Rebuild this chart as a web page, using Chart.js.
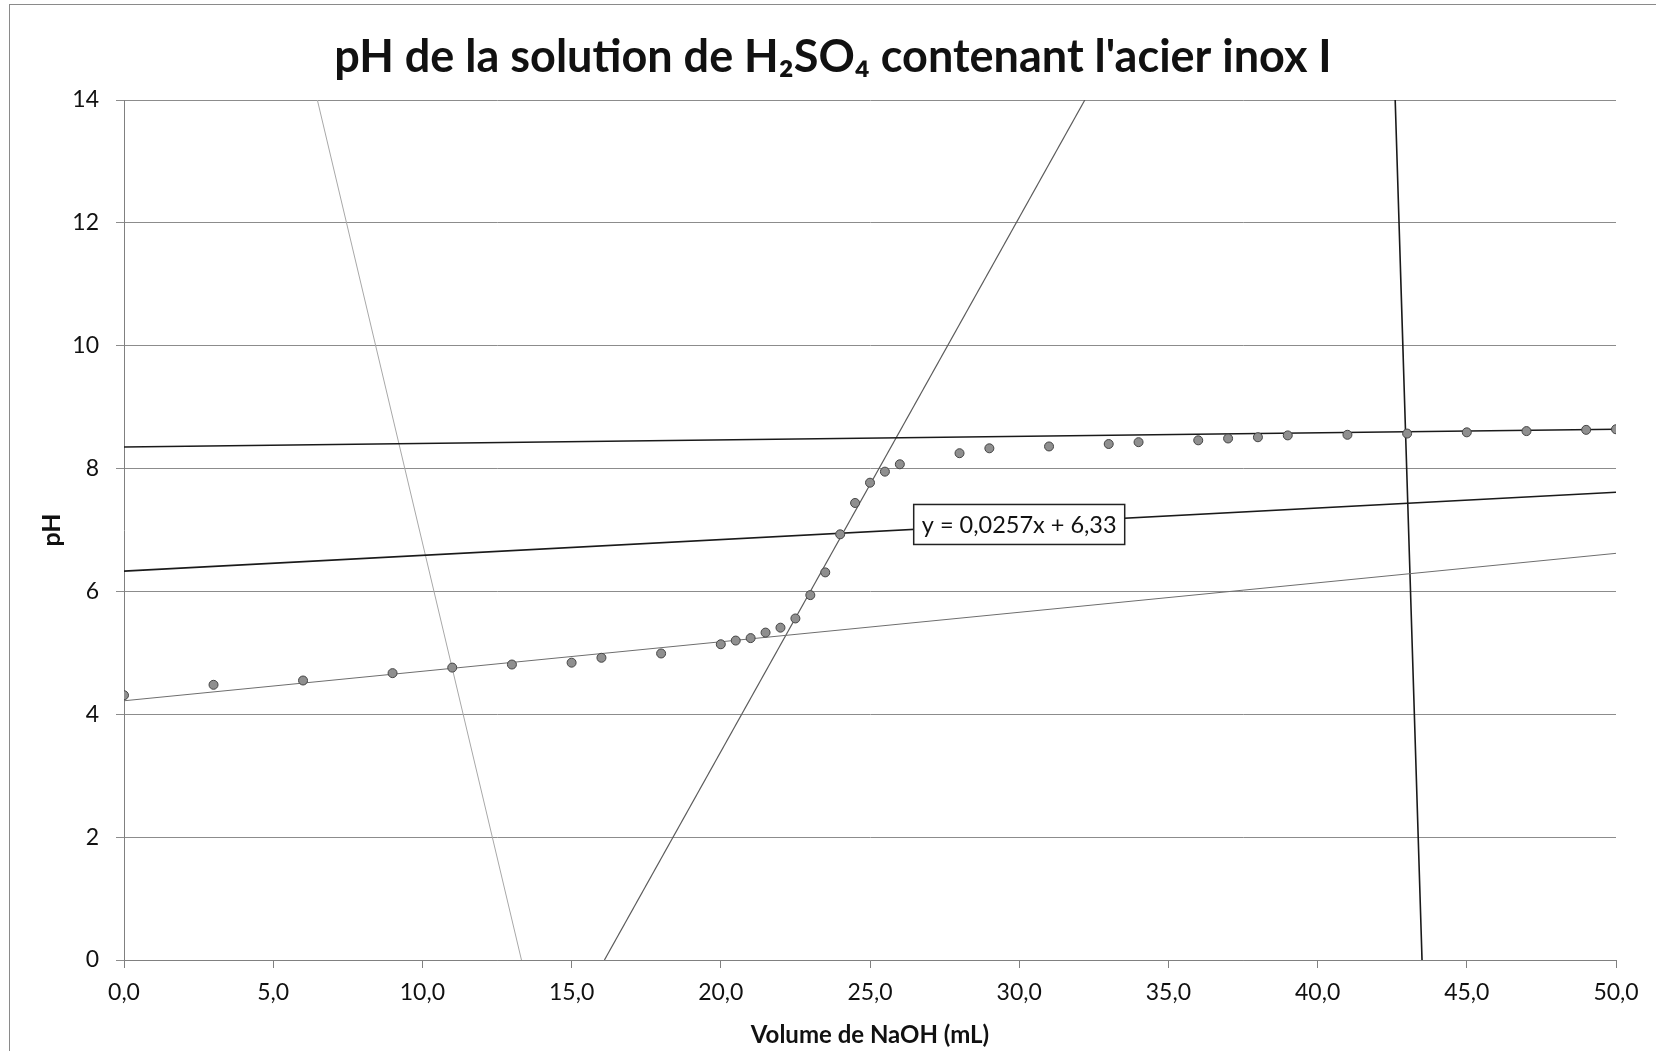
<!DOCTYPE html>
<html>
<head>
<meta charset="utf-8">
<title>pH de la solution de H2SO4</title>
<script src="https://cdn.jsdelivr.net/npm/chart.js@4.4.0/dist/chart.umd.min.js"></script>
<style>
  html, body { margin: 0; padding: 0; background: #fff; }
  #wrap { width: 1656px; height: 1051px; position: relative; }
</style>
</head>
<body>
<div id="wrap"><canvas id="chartPH" width="1656" height="1051"></canvas></div>
<script>
// -------------------------------------
// Données
// -------------------------------------
const volumes = [0, 3, 6, 9, 11, 13, 15, 16, 18, 20, 20.5, 21, 21.5, 22, 22.5, 23, 23.5, 24,
  24.5, 25, 25.5, 26, 28, 29, 31, 33, 34, 36, 37, 38, 39, 41, 43, 45, 47, 49, 50];
const phValues = [4.31, 4.48, 4.55, 4.67, 4.76, 4.81, 4.84, 4.92, 4.99, 5.14, 5.20, 5.24, 5.33,
  5.41, 5.56, 5.94, 6.31, 6.93, 7.44, 7.77, 7.95, 8.07, 8.25, 8.33, 8.36, 8.40, 8.43, 8.46,
  8.49, 8.51, 8.54, 8.55, 8.57, 8.59, 8.61, 8.63, 8.64];

// droites tracées (extrémités)
const droiteAcideX = [0, 50];        const droiteAcideY = [4.22, 6.62];
const droiteMilieuX = [0, 50];       const droiteMilieuY = [6.33, 7.615];
const droiteBasiqueX = [0, 50];      const droiteBasiqueY = [8.35, 8.64];
const tangenteX = [16.1, 32.2];      const tangenteY = [0, 14];
const droiteClaireX = [6.48, 13.32]; const droiteClaireY = [14, 0];
const verticaleX = [42.6, 43.5];     const verticaleY = [14, 0];

const xTicks = [0, 5, 10, 15, 20, 25, 30, 35, 40, 45, 50];
const yTicks = [0, 2, 4, 6, 8, 10, 12, 14];
const equation = "y = 0,0257x + 6,33";

const toPoints = (xs, ys) => xs.map((x, i) => ({ x: x, y: ys[i] }));

const FONT = "Lato, 'Open Sans', sans-serif";

// cadre extérieur + étiquette de l'équation
const decorPlugin = {
  id: "decor",
  afterLayout(chart) {
    // le titre est un peu décalé vers la droite dans l'original
    chart.titleBlock.left += 20;
    chart.titleBlock.right += 20;
  },
  beforeDraw(chart) {
    const ctx = chart.ctx;
    ctx.save();
    ctx.strokeStyle = "#8a8a8a";
    ctx.lineWidth = 1;
    ctx.strokeRect(9.5, 4.5, 1700, 1100);
    ctx.restore();
  },
  afterDatasetsDraw(chart) {
    const ctx = chart.ctx;
    const sx = chart.scales.x, sy = chart.scales.y;
    const cx = sx.getPixelForValue(30.0);
    const cy = sy.getPixelForValue(7.09);
    ctx.save();
    ctx.font = "23.5px " + FONT;
    const w = 211, h = 40;
    ctx.fillStyle = "#fff";
    ctx.fillRect(cx - w / 2, cy - h / 2, w, h);
    ctx.strokeStyle = "#222";
    ctx.lineWidth = 1.5;
    ctx.strokeRect(cx - w / 2, cy - h / 2, w, h);
    ctx.fillStyle = "#111";
    ctx.textAlign = "center";
    ctx.textBaseline = "middle";
    ctx.fillText(equation, cx, cy + 1);
    ctx.restore();
  }
};

const ligne = (data, color, width) => ({
  type: "line",
  data: data,
  borderColor: color,
  borderWidth: width,
  pointRadius: 0,
  fill: false,
  order: 2
});

new Chart(document.getElementById("chartPH"), {
  type: "scatter",
  data: {
    datasets: [
      {
        label: "pH",
        data: toPoints(volumes, phValues),
        pointRadius: 4.5,
        pointBackgroundColor: "#8f8f8f",
        pointBorderColor: "#444",
        pointBorderWidth: 1,
        order: 1
      },
      ligne(toPoints(droiteAcideX, droiteAcideY), "#6e6e6e", 1),
      ligne(toPoints(droiteMilieuX, droiteMilieuY), "#1a1a1a", 1.6),
      ligne(toPoints(droiteBasiqueX, droiteBasiqueY), "#1a1a1a", 1.6),
      ligne(toPoints(tangenteX, tangenteY), "#5a5a5a", 1.2),
      ligne(toPoints(droiteClaireX, droiteClaireY), "#a8a8a8", 1),
      ligne(toPoints(verticaleX, verticaleY), "#1a1a1a", 1.6)
    ]
  },
  options: {
    responsive: false,
    animation: false,
    layout: { padding: { left: 10, right: 40, top: 0, bottom: 0 } },
    plugins: {
      legend: { display: false },
      tooltip: { enabled: false },
      title: {
        display: true,
        text: "pH de la solution de H₂SO₄ contenant l'acier inox I",
        color: "#111",
        font: { family: FONT, size: 45, weight: "bold", lineHeight: 1.2 },
        padding: { top: 30, bottom: 16 }
      }
    },
    scales: {
      x: {
        type: "linear",
        min: 0,
        max: 50,
        afterFit: (scale) => { scale.height = 91; },
        afterBuildTicks: (scale) => { scale.ticks = xTicks.map(v => ({ value: v })); },
        ticks: {
          color: "#111",
          padding: 11,
          font: { family: FONT, size: 23 },
          callback: (v) => v.toFixed(1).replace(".", ",")
        },
        grid: { drawOnChartArea: false, drawTicks: true, tickLength: 8, color: "#808080" },
        border: { color: "#808080", width: 1 },
        title: {
          display: true,
          text: "Volume de NaOH (mL)",
          color: "#111",
          font: { family: FONT, size: 24, weight: "bold", lineHeight: 1.2 },
          padding: { top: 0, bottom: 1 }
        }
      },
      y: {
        min: 0,
        max: 14,
        afterFit: (scale) => { scale.width = 114; },
        afterBuildTicks: (scale) => { scale.ticks = yTicks.map(v => ({ value: v })); },
        ticks: {
          color: "#111",
          padding: 17,
          font: { family: FONT, size: 23 }
        },
        grid: { color: "#8c8c8c", lineWidth: 1, tickLength: 8 },
        border: { color: "#808080", width: 1 },
        title: {
          display: true,
          text: "pH",
          color: "#111",
          font: { family: FONT, size: 25, weight: "bold", lineHeight: 1.2 },
          padding: { top: 27, bottom: 0 }
        }
      }
    }
  },
  plugins: [decorPlugin]
});
</script>
</body>
</html>
